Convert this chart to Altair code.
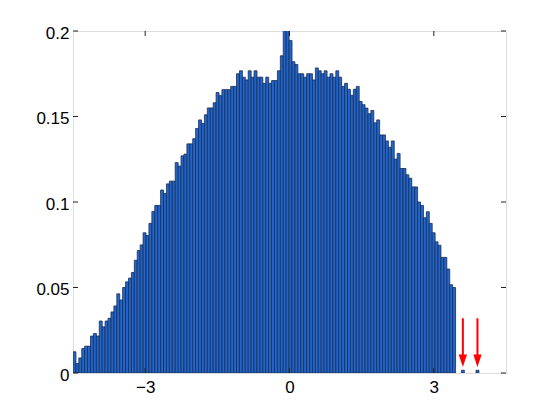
import altair as alt
import pandas as pd

# Histogram bin heights, bins start at -4.5 with constant width
bin_start = -4.5
bin_width = 0.0607
heights = [
    0.0124, 0.0055, 0.0088, 0.0143, 0.0157, 0.0157, 0.0216, 0.0231, 0.0216, 0.0304,
    0.0270, 0.0304, 0.0320, 0.0357, 0.0392, 0.0463, 0.0427, 0.0500, 0.0533, 0.0555,
    0.0588, 0.0659, 0.0716, 0.0749, 0.0820, 0.0804, 0.0875, 0.0945, 0.0980, 0.0980,
    0.1070, 0.1050, 0.1106, 0.1122, 0.1122, 0.1230, 0.1210, 0.1270, 0.1280, 0.1340,
    0.1340, 0.1370, 0.1430, 0.1480, 0.1460, 0.1510, 0.1550, 0.1550, 0.1580, 0.1640,
    0.1622, 0.1657, 0.1657, 0.1657, 0.1676, 0.1676, 0.1750, 0.1767, 0.1730, 0.1714,
    0.1767, 0.1730, 0.1767, 0.1730, 0.1730, 0.1694, 0.1730, 0.1694, 0.1710, 0.1710,
    0.1767, 0.1855, 0.2060, 0.2030, 0.1945, 0.1820, 0.1804, 0.1750, 0.1750, 0.1730,
    0.1750, 0.1750, 0.1714, 0.1784, 0.1767, 0.1750, 0.1767, 0.1730, 0.1750, 0.1730,
    0.1767, 0.1730, 0.1676, 0.1694, 0.1659, 0.1624, 0.1659, 0.1676, 0.1588, 0.1569,
    0.1549, 0.1516, 0.1535, 0.1463, 0.1480, 0.1392, 0.1392, 0.1357, 0.1320, 0.1357,
    0.1251, 0.1284, 0.1196, 0.1196, 0.1159, 0.1139, 0.1088, 0.1088, 0.1000, 0.0980,
    0.0908, 0.0943, 0.0875, 0.0820, 0.0767, 0.0747, 0.0676, 0.0676, 0.0608, 0.0516,
    0.0500,
]
# isolated outlier bins (bin index, height) marked with red arrows
outlier_bins = [133, 138]
outlier_heights = [0.0016, 0.0016]

arrow_top = 0.032
arrow_shaft_end = 0.0105
arrow_head_y = 0.0072

x_ticks = [-3, 0, 3]
y_ticks = [0, 0.05, 0.1, 0.15, 0.2]

W, H = 433, 342
FONT = "Liberation Sans"
FS = 17

rows = []
for i, h in enumerate(heights):
    rows.append({"x0": bin_start + i * bin_width, "x1": bin_start + (i + 1) * bin_width, "h": h})
for i, h in zip(outlier_bins, outlier_heights):
    rows.append({"x0": bin_start + i * bin_width, "x1": bin_start + (i + 1) * bin_width, "h": h})
bars_df = pd.DataFrame(rows)

arrow_df = pd.DataFrame({
    "x": [bin_start + (i + 0.5) * bin_width for i in outlier_bins],
    "ytop": [arrow_top] * len(outlier_bins),
    "yend": [arrow_shaft_end] * len(outlier_bins),
    "yhead": [arrow_head_y] * len(outlier_bins),
})

xscale = alt.Scale(domain=[-4.5, 4.5], nice=False, zero=False)
yscale = alt.Scale(domain=[0, 0.2], nice=False)

xaxis = alt.Axis(values=x_ticks, ticks=False, domain=False, grid=False, labelFont=FONT,
                 labelFontSize=FS, labelColor="black", labelPadding=6,
                 labelExpr="datum.value < 0 ? '\u2212' + format(-datum.value, 'd') : format(datum.value, 'd')",
                 title=None)
yaxis = alt.Axis(values=y_ticks, ticks=False, domain=False, grid=False, labelFont=FONT,
                 labelFontSize=FS, labelColor="black", labelPadding=4, labelOffset=2,
                 labelExpr="datum.value == 0 ? '0' : format(datum.value, '.2~f')",
                 title=None)

bars = alt.Chart(bars_df).mark_rect(
    fill="#1f66d0", stroke="#1c2c4c", strokeWidth=0.8, clip=True
).encode(
    x=alt.X("x0:Q", scale=xscale, axis=xaxis),
    x2="x1:Q",
    y=alt.Y("h:Q", scale=yscale, axis=yaxis),
    y2=alt.datum(0),
)

shafts = alt.Chart(arrow_df).mark_rule(color="#ff0000", strokeWidth=2).encode(
    x=alt.X("x:Q", scale=xscale),
    y=alt.Y("ytop:Q", scale=yscale),
    y2="yend:Q",
)
heads = alt.Chart(arrow_df).mark_point(
    shape="M-0.67,-1L0.67,-1L0,1Z", size=154, filled=True, color="#ff0000", opacity=1
).encode(
    x=alt.X("x:Q", scale=xscale),
    y=alt.Y("yhead:Q", scale=yscale),
)

xt_df = pd.DataFrame({"v": x_ticks})
yt_df = pd.DataFrame({"v": y_ticks})
tick_style = dict(color="#222222", strokeWidth=1)
xt_bottom = alt.Chart(xt_df).mark_rule(**tick_style).encode(
    x=alt.X("v:Q", scale=xscale), y=alt.value(H), y2=alt.value(H - 5))
xt_top = alt.Chart(xt_df).mark_rule(**tick_style).encode(
    x=alt.X("v:Q", scale=xscale), y=alt.value(0), y2=alt.value(5))
yt_left = alt.Chart(yt_df).mark_rule(**tick_style).encode(
    y=alt.Y("v:Q", scale=yscale), x=alt.value(0), x2=alt.value(5))
yt_right = alt.Chart(yt_df).mark_rule(**tick_style).encode(
    y=alt.Y("v:Q", scale=yscale), x=alt.value(W - 5), x2=alt.value(W))

chart = alt.layer(bars, shafts, heads, xt_bottom, xt_top, yt_left, yt_right).properties(
    width=W, height=H,
    autosize=alt.AutoSizeParams(type="none"),
    padding={"left": 65, "top": 23, "right": 30, "bottom": 35},
).configure_view(
    stroke="#222222", strokeWidth=1
).configure(background="white")

chart.save("out.html", embed_options={"renderer": "svg", "actions": False})
